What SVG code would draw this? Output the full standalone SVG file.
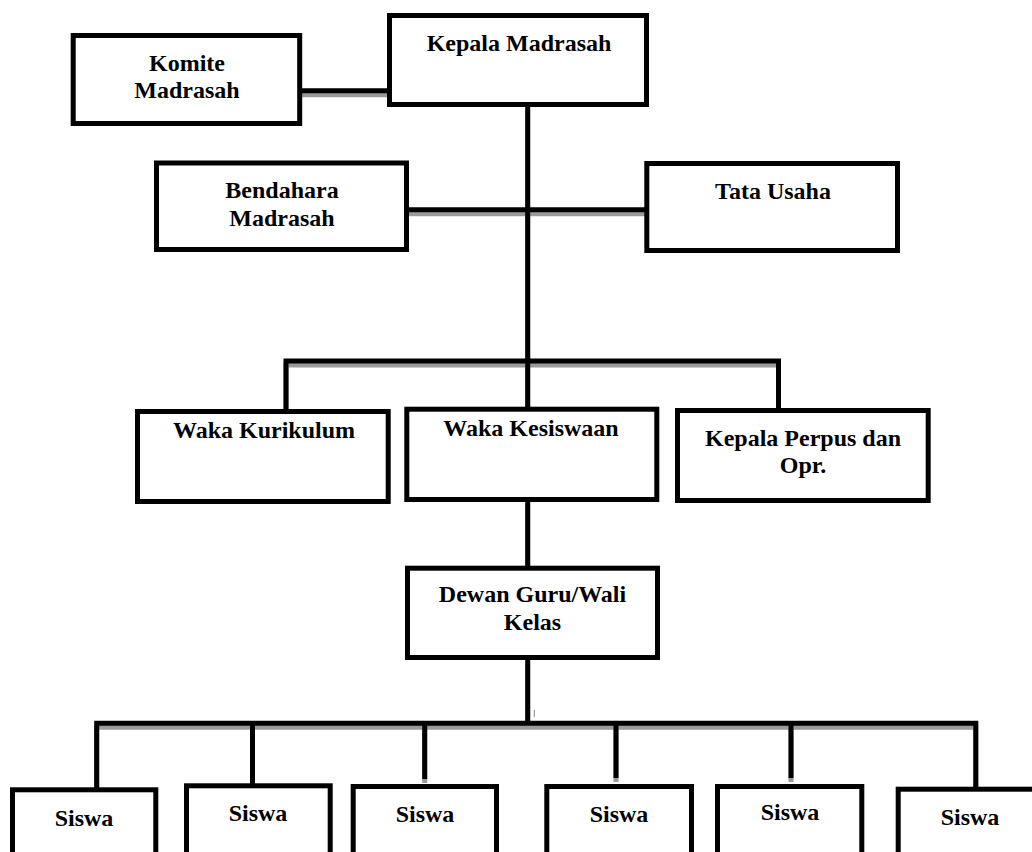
<svg xmlns="http://www.w3.org/2000/svg" xmlns:xlink="http://www.w3.org/1999/xlink" width="1032" height="852" viewBox="0 0 1032 852">
<style>
.box{fill:#ffffff;stroke:#000000;stroke-width:5}
.t{font-family:"Liberation Serif","Times New Roman",serif;font-weight:bold;font-size:24px;fill:#000000;text-anchor:middle}
.ln{fill:none;stroke-width:5;stroke-linejoin:miter;stroke-linecap:butt}
</style>
<defs>
<g id="wires">
<path d="M302,90.8 H388"/>
<path d="M527.7,106 V408"/>
<path d="M408,209.8 H645"/>
<path d="M286,409 V361 H778.5 V409"/>
<path d="M527.7,501 V567"/>
<path d="M527.7,659 V723"/>
<path d="M96.7,788 V723.2 H975.8 V787"/>
<path d="M252.5,723 V784"/>
<path d="M424.7,723 V779"/>
<path d="M616,723 V778"/>
<path d="M791,723 V778"/>
</g>
</defs>
<rect x="0" y="0" width="1032" height="852" fill="#ffffff"/>
<g id="connectors">
<use xlink:href="#wires" class="ln" stroke="#9a9a9a" transform="translate(0,4)"/>
<use xlink:href="#wires" class="ln" stroke="#000000"/>
<line x1="534.3" y1="710" x2="534.3" y2="717" stroke="#888888" stroke-width="1"/>
</g>
<g id="komite">
<rect class="box" x="73.2" y="35.5" width="226.5" height="88"/>
<text class="t" x="187" y="71">Komite</text>
<text class="t" x="187" y="98">Madrasah</text>
</g>
<g id="kepala">
<rect class="box" x="389.5" y="15.5" width="257" height="89"/>
<text class="t" x="519" y="51">Kepala Madrasah</text>
</g>
<g id="bendahara">
<rect class="box" x="156.5" y="163" width="250" height="86.5"/>
<text class="t" x="282" y="198">Bendahara</text>
<text class="t" x="282" y="226">Madrasah</text>
</g>
<g id="tata-usaha">
<rect class="box" x="646.8" y="163.5" width="250.7" height="87"/>
<text class="t" x="773" y="199">Tata Usaha</text>
</g>
<g id="waka-kurikulum">
<rect class="box" x="137.5" y="411.5" width="250.7" height="90"/>
<text class="t" x="264" y="438">Waka Kurikulum</text>
</g>
<g id="waka-kesiswaan">
<rect class="box" x="406.8" y="409.2" width="250" height="90.3"/>
<text class="t" x="531" y="436">Waka Kesiswaan</text>
</g>
<g id="kepala-perpus">
<rect class="box" x="677.5" y="410.5" width="250.7" height="90"/>
<text class="t" x="803" y="446">Kepala Perpus dan</text>
<text class="t" x="803" y="473">Opr.</text>
</g>
<g id="dewan-guru">
<rect class="box" x="407.5" y="568.2" width="250" height="89.3"/>
<text class="t" x="532.5" y="602">Dewan Guru/Wali</text>
<text class="t" x="532.5" y="629.5">Kelas</text>
</g>
<g id="siswa-1">
<rect class="box" x="12.5" y="789.8" width="143.3" height="100"/>
<text class="t" x="84" y="826">Siswa</text>
</g>
<g id="siswa-2">
<rect class="box" x="186.5" y="785.8" width="143.7" height="100"/>
<text class="t" x="258" y="821">Siswa</text>
</g>
<g id="siswa-3">
<rect class="box" x="353.2" y="786.5" width="143.3" height="100"/>
<text class="t" x="425" y="822">Siswa</text>
</g>
<g id="siswa-4">
<rect class="box" x="546.8" y="786.5" width="144.7" height="100"/>
<text class="t" x="619" y="822">Siswa</text>
</g>
<g id="siswa-5">
<rect class="box" x="717.5" y="786.5" width="144.3" height="100"/>
<text class="t" x="790" y="820">Siswa</text>
</g>
<g id="siswa-6">
<rect class="box" x="898.2" y="789.2" width="150" height="100"/>
<text class="t" x="970" y="825">Siswa</text>
</g>
</svg>
